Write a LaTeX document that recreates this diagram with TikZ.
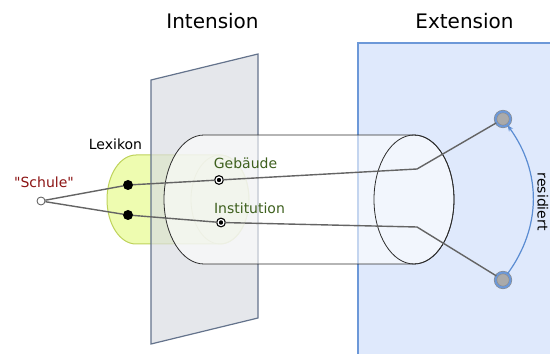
\documentclass[tikz,border=0pt]{standalone}
\usepackage{fontspec}
\setmainfont{DejaVu Sans}
\newfontfamily\plainfont{DejaVu Sans}[Ligatures=TeXOff]
\usetikzlibrary{arrows.meta}
\definecolor{extfill}{RGB}{223,233,252}
\definecolor{extline}{RGB}{108,152,216}
\definecolor{planefill}{RGB}{218,221,226}
\definecolor{planeline}{RGB}{100,115,140}
\definecolor{lexfill}{RGB}{238,252,176}
\definecolor{lexline}{RGB}{190,210,90}
\definecolor{cylline}{RGB}{45,45,45}
\definecolor{linkgray}{RGB}{100,100,100}
\definecolor{schulered}{RGB}{140,20,20}
\definecolor{concgreen}{RGB}{62,96,30}
\definecolor{dotgray}{RGB}{170,170,170}
\definecolor{ringgray}{RGB}{140,140,140}
\definecolor{arrowblue}{RGB}{90,140,210}
\tikzset{
  title/.style={font=\fontsize{20}{24}\selectfont, inner sep=0pt, anchor=base},
  label/.style={font=\fontsize{14}{17}\selectfont, inner sep=0pt, anchor=base},
  worddot/.style={circle, minimum size=8pt, inner sep=0pt, fill=white, draw={rgb,255:red,85;green,85;blue,85}, line width=0.8pt},
  lexdot/.style={circle, minimum size=10pt, inner sep=0pt, fill=black},
  concdot/.style={circle, minimum size=6pt, inner sep=0pt, fill=black, draw=black, double=white, double distance=1.2pt, line width=1.2pt},
  extdot/.style={circle, minimum size=15pt, inner sep=0pt, fill=dotgray, draw=ringgray, double=extline, double distance=2pt, line width=0.6pt},
  link/.style={draw=linkgray, line width=1.4pt},
  resarrow/.style={draw=arrowblue, line width=1.2pt, -{Stealth[length=6pt,width=5pt]}},
}
\begin{document}
\begin{tikzpicture}[x=1pt,y=1pt]
\useasboundingbox (0,0) rectangle (550,354);
% Extension area
\path[fill=extfill, draw=extline, line width=1.2pt] (358,-5) rectangle (560,311);
% Lexikon cylinder
\path[fill=lexfill, draw=lexline, line width=1pt]
  (136,199) -- (220,199) arc[start angle=90, end angle=-90, x radius=29, y radius=44.5]
  -- (136,110) arc[start angle=270, end angle=90, x radius=29, y radius=44.5] -- cycle;
\draw[lexline, line width=0.8pt] (220,154.5) ellipse [x radius=29, y radius=44.5];
% Intension plane
\path[fill=planefill, fill opacity=0.7, draw=planeline, line width=1.2pt]
  (151,274) -- (258,300) -- (258,36) -- (151,10) -- cycle;
% big cylinder
\path[fill=white, fill opacity=0.6, draw=cylline, line width=0.8pt]
  (204,219) -- (414,219) arc[start angle=90, end angle=-90, x radius=40, y radius=64.5]
  -- (204,90) arc[start angle=270, end angle=90, x radius=40, y radius=64.5] -- cycle;
\draw[cylline, line width=0.8pt] (414,154.5) ellipse [x radius=40, y radius=64.5];
% titles and labels
\node[title] (tint) at (212.5,325) {Intension};
\node[title] (text) at (464.5,325) {Extension};
\node[label] (tlex) at (115.5,204) {Lexikon};
\node[label, text=schulered] (tschule) at (44,166) {\plainfont "Schule"};
\node[label, text=concgreen] (tgeb) at (245.5,185) {Gebäude};
\node[label, text=concgreen] (tinst) at (249.5,140) {Institution};
% dots
\node[worddot] (schule) at (41,153) {};
\node[lexdot] (d1) at (128,169) {};
\node[lexdot] (d2) at (128,139) {};
\node[concdot] (geb) at (219,174) {};
\node[concdot] (inst) at (221,131.5) {};
\coordinate (b1) at (417,185);
\coordinate (b2) at (417,127);
\node[extdot] (e1) at (503,235) {};
\node[extdot] (e2) at (503,74) {};
% links
\draw[link] (schule) -- (d1) -- (geb) -- (b1) -- (e1);
\draw[link] (schule) -- (d2) -- (inst) -- (b2) -- (e2);
% residiert
\draw[resarrow] (e2) to[bend right=36] (e1);
\node[label, anchor=base, rotate=-90] (tres) at (537.5,152.3) {residiert};
\end{tikzpicture}
\end{document}
